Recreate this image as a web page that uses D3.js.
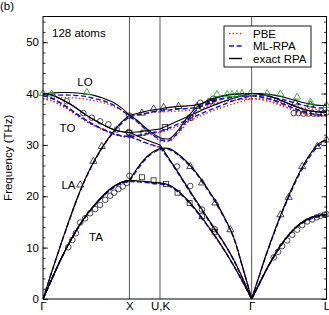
<!DOCTYPE html>
<html><head><meta charset="utf-8">
<script src="https://cdn.jsdelivr.net/npm/d3@7"></script>
<style>
body{margin:0;background:#fff;}
text{font-family:"Liberation Sans",Arial,sans-serif;}
</style></head>
<body><svg id="c" width="329" height="315"></svg>
<script>
// ---- data ----
const hsLabels = ["Γ","X","U,K","Γ","L"];
const hsQ = [0, 1.0, 1.3536, 2.4142, 3.2802];
const yTicks = [0,10,20,30,40,50];
// sample positions along path (Γ-X, X-U, K-Γ, Γ-L)
const qGrid = [0,0.1,0.2,0.3,0.4,0.5,0.6,0.7,0.8,0.9,1.0,
  1.0,1.0884,1.1768,1.2652,1.3536,
  1.3536,1.4597,1.5657,1.6718,1.7778,1.8839,1.9900,2.0960,2.2021,2.3081,2.4142,
  2.4142,2.5008,2.5874,2.6740,2.7606,2.8472,2.9338,3.0204,3.1070,3.1936,3.2802];
const segments = [[0,10],[11,15],[16,26],[27,37]];

const exactRPA = [
 [0,3.8,7.5,10.8,13.8,16.3,18.4,20.2,21.7,22.7,23.1, 23.1,23.0,22.9,22.7,22.6, 22.6,22.2,21.0,19.3,17.2,14.8,12.3,9.6,6.6,3.4,0, 0,2.9,5.8,8.4,10.7,12.6,14.1,15.2,15.9,16.3,16.5],
 [0,3.8,7.5,10.8,13.8,16.3,18.4,20.2,21.7,22.7,23.1, 23.1,25.4,27.3,28.6,29.3, 29.3,29.3,28.2,26.6,24.5,22.0,19.2,16.0,12.2,6.3,0, 0,2.9,5.8,8.4,10.7,12.6,14.1,15.2,15.9,16.3,16.5],
 [0,5.2,10.3,15.2,19.8,23.8,27.1,29.9,32.3,34.3,35.8, 32.4,31.8,31.1,30.5,30.0, 30.0,27.3,24.6,21.8,19.0,16.3,13.6,10.9,7.8,4.1,0, 0,4.5,8.9,13.0,16.8,20.3,23.5,26.3,28.6,30.3,31.0],
 [40.0,39.7,39.0,38.1,37.0,35.8,34.8,33.9,33.1,32.6,32.4, 32.4,32.5,32.7,32.9,33.1, 33.1,33.9,34.7,35.5,36.3,37.1,37.8,38.5,39.1,39.6,40.0, 40.0,39.9,39.6,39.2,38.6,38.0,37.4,36.9,36.6,36.4,36.4],
 [40.0,39.7,39.0,38.1,37.0,35.8,34.8,33.9,33.1,32.6,32.4, 35.8,34.8,33.5,32.3,31.4, 31.4,31.2,32.9,35.4,37.3,38.5,39.2,39.6,39.8,39.9,40.0, 40.0,40.0,39.9,39.7,39.4,39.0,38.6,38.2,37.9,37.7,37.7],
 [40.0,40.1,40.2,40.2,40.1,39.9,39.6,39.1,38.4,37.3,35.8, 35.8,36.1,36.5,36.8,37.0, 37.0,37.3,37.5,37.6,37.8,38.3,39.0,39.6,39.9,40.0,40.0, 40.0,39.9,39.6,39.2,38.6,38.0,37.4,36.9,36.6,36.4,36.4]
];
const mlRPA = [
 [0,3.8,7.5,10.8,13.7,16.2,18.3,20.1,21.5,22.5,22.9, 22.9,22.8,22.7,22.5,22.4, 22.4,22.0,20.8,19.1,17.0,14.7,12.2,9.5,6.6,3.4,0, 0,2.9,5.8,8.3,10.6,12.5,14.0,15.0,15.7,16.1,16.3],
 [0,3.8,7.5,10.8,13.7,16.2,18.3,20.1,21.5,22.5,22.9, 22.9,25.1,27.0,28.4,29.1, 29.1,29.1,28.0,26.4,24.3,21.8,19.0,15.8,12.1,6.2,0, 0,2.9,5.8,8.3,10.6,12.5,14.0,15.0,15.7,16.1,16.3],
 [0,5.2,10.3,15.1,19.7,23.7,27.0,29.8,32.1,34.0,35.5, 31.6,31.1,30.5,30.0,29.6, 29.6,27.1,24.4,21.6,18.8,16.1,13.4,10.8,7.7,4.0,0, 0,4.4,8.8,12.8,16.6,20.0,23.2,25.9,28.2,29.9,30.6],
 [39.6,39.1,38.2,37.1,35.9,34.8,33.8,33.0,32.3,31.8,31.6, 31.6,31.8,32.1,32.4,32.6, 32.6,33.3,34.1,34.9,35.7,36.5,37.2,37.9,38.6,39.1,39.6, 39.6,39.4,39.1,38.7,38.1,37.5,36.9,36.4,36.1,35.9,35.9],
 [39.6,39.1,38.2,37.1,35.9,34.8,33.8,33.0,32.3,31.8,31.6, 35.5,34.5,33.2,32.0,31.0, 31.0,30.9,32.5,34.9,36.8,38.0,38.7,39.1,39.3,39.5,39.6, 39.6,39.6,39.5,39.2,38.9,38.5,38.1,37.7,37.4,37.2,37.2],
 [39.6,39.7,39.7,39.7,39.6,39.4,39.0,38.6,37.9,36.9,35.5, 35.5,35.8,36.1,36.4,36.6, 36.6,36.8,37.0,37.1,37.3,37.8,38.5,39.0,39.3,39.5,39.6, 39.6,39.4,39.1,38.7,38.1,37.5,36.9,36.4,36.1,35.9,35.9]
];
const pbe = [
 [0,3.8,7.5,10.8,13.7,16.2,18.3,20.1,21.6,22.6,23.0, 23.0,22.9,22.8,22.6,22.5, 22.5,22.1,20.9,19.2,17.1,14.7,12.2,9.5,6.6,3.4,0, 0,2.9,5.8,8.4,10.7,12.6,14.1,15.1,15.8,16.2,16.4],
 [0,3.8,7.5,10.8,13.7,16.2,18.3,20.1,21.6,22.6,23.0, 23.0,25.3,27.2,28.5,29.2, 29.2,29.2,28.1,26.5,24.4,21.9,19.1,15.9,12.2,6.3,0, 0,2.9,5.8,8.4,10.7,12.6,14.1,15.1,15.8,16.2,16.4],
 [0,5.2,10.3,15.2,19.8,23.8,27.1,29.9,32.2,34.2,35.7, 31.5,31.0,30.4,29.9,29.5, 29.5,27.2,24.5,21.7,18.9,16.2,13.5,10.8,7.7,4.0,0, 0,4.5,8.9,12.9,16.7,20.2,23.4,26.2,28.5,30.2,30.9],
 [39.0,38.6,37.8,36.8,35.7,34.6,33.7,32.9,32.2,31.7,31.5, 31.5,31.7,31.9,32.2,32.4, 32.4,33.0,33.7,34.5,35.3,36.1,36.8,37.4,38.0,38.5,39.0, 39.0,38.9,38.6,38.2,37.7,37.1,36.5,36.1,35.8,35.6,35.6],
 [39.0,38.6,37.8,36.8,35.7,34.6,33.7,32.9,32.2,31.7,31.5, 35.7,34.6,33.2,31.9,30.8, 30.8,30.7,32.2,34.4,36.2,37.4,38.1,38.5,38.7,38.9,39.0, 39.0,39.0,38.9,38.6,38.3,37.9,37.5,37.2,37.0,36.8,36.8],
 [39.0,39.1,39.2,39.2,39.1,38.9,38.6,38.2,37.6,36.8,35.7, 35.7,35.9,36.1,36.3,36.4, 36.4,36.5,36.6,36.7,36.9,37.3,37.9,38.4,38.7,38.9,39.0, 39.0,38.9,38.6,38.2,37.7,37.1,36.5,36.1,35.8,35.6,35.6]
];
// experimental points [q, THz]
const expCircles = [
 [0.275,38.5],[0.467,36.2],[0.565,35.3],[0.661,34.6],[0.757,34.0],[0.854,33.0],[0.99,32.5],[1.0,35.7],
 [0.293,10.1],[0.34,11.5],[0.38,12.8],[0.43,14.9],[0.487,15.7],[0.545,16.7],[0.603,17.5],[0.66,18.3],[0.72,19.3],[0.777,20.1],[0.823,20.7],[0.873,21.4],[0.923,21.9],[0.97,22.6],[1.0,24.0],
 [1.55,25.8],[1.704,22.0],[1.84,17.4],[1.986,13.6],
 [1.82,38.2],[1.97,39.0],
 [2.901,36.2],[2.956,36.2],[3.014,36.1],[3.072,36.1],[3.13,36.1],[3.188,36.1],[3.246,36.2],[3.28,36.3],
 [2.67,8.1],[2.72,9.2],[2.767,10.3],[2.825,11.4],[2.883,12.5],[2.941,13.5],[2.999,14.4],[3.057,15.1],[3.115,15.5],[3.165,15.9],[3.211,16.2],[3.257,16.4],[3.28,16.5]
];
const expSquares = [
 [1.144,23.7],[1.279,23.1],[1.422,22.4],[1.557,20.7],[1.696,18.7],[1.84,16.1],[1.986,13.1],
 [1.0,32.3],[1.163,32.4],[1.414,33.5],[1.704,35.3],[1.936,38.5]
];
const expTriangles = [
 [0.43,22.2],[0.583,26.8],[0.68,29.7],
 [1.144,36.2],[1.279,37.0],[1.395,37.3],[1.568,37.5],[1.782,37.5],
 [1.704,25.8],[1.84,22.6],[1.994,18.7],[2.168,13.5],
 [2.747,16.4],[2.843,19.8],[2.999,25.8],[3.173,29.7],[3.28,31.0],
 [2.92,38.2],[3.095,37.8]
];
const expGreen = [
 [0,40.0],[0.1,39.9],[0.507,40.2],
 [2.013,39.8],[2.13,39.8],[2.187,39.8],[2.245,39.8],[2.303,40.0],[2.4,40.0],
 [2.593,40.0],[2.747,39.9],[2.94,39.3],[3.095,38.3],[3.28,37.7]
];

// ---- chart ----
const svg = d3.select("#c");
const L=43, R=326.5, T=16.5, B=299;
const x = d3.scaleLinear().domain([0,3.2802]).range([L,R]);
const y = d3.scaleLinear().domain([0,55]).range([B,T]);

const clip = svg.append("clipPath").attr("id","cp").append("rect")
  .attr("x",L).attr("y",T).attr("width",R-L).attr("height",B-T);

// vertical high symmetry lines
svg.selectAll("line.hs").data(hsQ.slice(1,4)).enter().append("line")
  .attr("x1",d=>x(d)).attr("x2",d=>x(d)).attr("y1",T).attr("y2",B)
  .attr("stroke","#444").attr("stroke-width",0.9);

const line = d3.line().x(d=>x(d[0])).y(d=>y(d[1])).curve(d3.curveCatmullRom.alpha(0.5));
const g = svg.append("g").attr("clip-path","url(#cp)");
function drawSet(set, color, dash, width){
  set.forEach(branch=>{
    segments.forEach(([a,b])=>{
      const pts=[]; for(let i=a;i<=b;i++) pts.push([qGrid[i],branch[i]]);
      g.append("path").attr("d",line(pts)).attr("fill","none")
        .attr("stroke",color).attr("stroke-width",width)
        .attr("stroke-dasharray",dash);
    });
  });
}
drawSet(pbe,"#ff2020","1.4,2.2",1.4);
drawSet(mlRPA,"#1010e0","5,2.6",1.4);
drawSet(exactRPA,"#000","none",1.1);

// symbols
const sym = svg.append("g");
sym.selectAll("circle").data(expCircles).enter().append("circle")
  .attr("cx",d=>x(d[0])).attr("cy",d=>y(d[1])).attr("r",2.8)
  .attr("fill","none").attr("stroke","#000").attr("stroke-width",0.7);
sym.selectAll("rect.s").data(expSquares).enter().append("rect")
  .attr("x",d=>x(d[0])-2.5).attr("y",d=>y(d[1])-2.5).attr("width",5).attr("height",5)
  .attr("fill","none").attr("stroke","#000").attr("stroke-width",0.7);
const tri = d3.symbol().type(d3.symbolTriangle).size(22);
sym.selectAll("path.t").data(expTriangles).enter().append("path")
  .attr("d",tri).attr("transform",d=>`translate(${x(d[0])},${y(d[1])})`)
  .attr("fill","none").attr("stroke","#000").attr("stroke-width",0.7);
sym.selectAll("path.gt").data(expGreen).enter().append("path")
  .attr("d",tri).attr("transform",d=>`translate(${x(d[0])},${y(d[1])})`)
  .attr("fill","none").attr("stroke","#1a9a1a").attr("stroke-width",0.8);

// axes
const minor = d3.range(0,56,2);
const axL = svg.append("g").attr("transform",`translate(${L},0)`)
  .call(d3.axisLeft(y).tickValues(yTicks).tickSize(-5).tickPadding(4));
const axLm = svg.append("g").attr("transform",`translate(${L},0)`)
  .call(d3.axisLeft(y).tickValues(minor).tickSize(-2.5).tickFormat(""));
const axR = svg.append("g").attr("transform",`translate(${R},0)`)
  .call(d3.axisRight(y).tickValues(yTicks).tickSize(-5).tickFormat(""));
const axRm = svg.append("g").attr("transform",`translate(${R},0)`)
  .call(d3.axisRight(y).tickValues(minor).tickSize(-2.5).tickFormat(""));
const axB = svg.append("g").attr("transform",`translate(0,${B})`)
  .call(d3.axisBottom(x).tickValues(hsQ).tickSize(0).tickPadding(3)
  .tickFormat((d,i)=>hsLabels[i]));
[axL,axLm,axR,axRm,axB].forEach(a=>{a.select(".domain").remove();
  a.selectAll("line").attr("stroke","#000").attr("stroke-width",0.8);
  a.selectAll("text").attr("font-size",11.5).attr("fill","#000")
   .style("font-family","'Liberation Sans',Arial,sans-serif");});

svg.append("rect").attr("x",L).attr("y",T).attr("width",R-L).attr("height",B-T)
  .attr("fill","none").attr("stroke","#000").attr("stroke-width",1);

// texts
const t=(s,xx,yy,opt={})=>svg.append("text").attr("x",xx).attr("y",yy).text(s)
  .attr("font-size",opt.fs||11.5).attr("text-anchor",opt.a||"start").attr("fill","#000");
t("(b)",0,10);
t("128 atoms",52,37);
t("LO",85,86,{a:"middle"});
t("TO",67.5,131.5,{a:"middle"});
t("LA",68.5,188.5,{a:"middle"});
t("TA",96,240.5,{a:"middle"});
svg.append("text").attr("transform",`translate(12,${(T+B)/2}) rotate(-90)`)
  .attr("text-anchor","middle").attr("font-size",11.5).text("Frequency (THz)");

// legend
const legNames=["PBE","ML-RPA","exact RPA"];
const legCol=["#ff2020","#1010e0","#000"];
const legDash=["1.4,2.2","5,2.6","none"];
const lg=svg.append("g");
lg.append("rect").attr("x",224).attr("y",26).attr("width",87).attr("height",41)
  .attr("fill","#fff").attr("stroke","#000").attr("stroke-width",0.9);
legNames.forEach((n,i)=>{
  const yy=33.5+i*12.5;
  lg.append("line").attr("x1",229).attr("x2",242).attr("y1",yy).attr("y2",yy)
    .attr("stroke",legCol[i]).attr("stroke-width",1.4).attr("stroke-dasharray",legDash[i]);
  lg.append("text").attr("x",253).attr("y",yy+4).attr("font-size",11.5).text(n);
});
</script></body></html>
